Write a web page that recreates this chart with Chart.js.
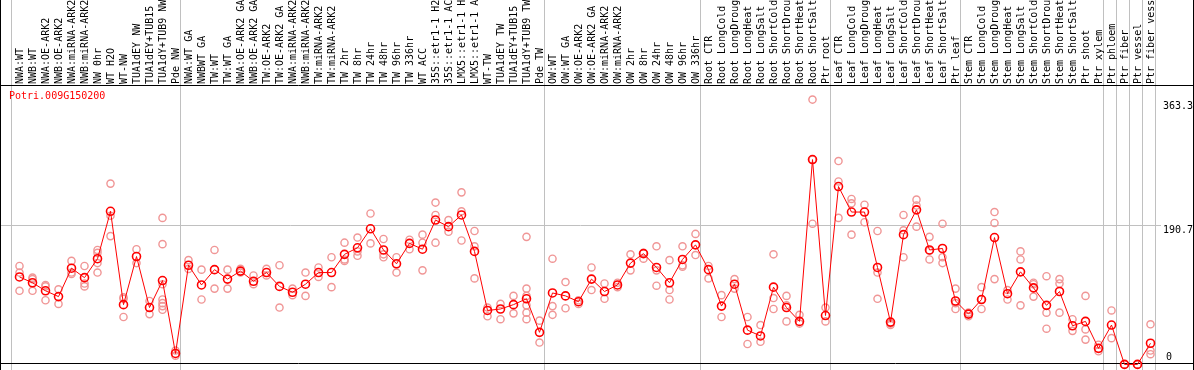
<!DOCTYPE html>
<html>
<head>
<meta charset="utf-8">
<script src="https://cdn.jsdelivr.net/npm/chart.js@4.4.1/dist/chart.umd.min.js"></script>
<style>
  html, body { margin: 0; padding: 0; background: #fff; }
</style>
</head>
<body>
<canvas id="expr" width="1194" height="370"></canvas>
<script>
const geneId = "Potri.009G150200";

const labels = [
  "NWA:WT", "NWB:WT", "NWA:OE-ARK2", "NWB:OE-ARK2", "NWA:miRNA-ARK2", "NWB:miRNA-ARK2",
  "NW 0hr", "WT H2O", "WT-NW", "TUA1dEY NW", "TUA1dEY+TUB15 NW", "TUA1dY+TUB9 NW", "Pde NW",
  "NWA:WT GA", "NWBWT GA", "TW:WT", "TW:WT GA", "NWA:OE-ARK2 GA", "NWB:OE-ARK2 GA",
  "TW:OE-ARK2", "TW:OE-ARK2 GA", "NWA:miRNA-ARK2", "NWB:miRNA-ARK2", "TW:miRNA-ARK2",
  "TW:miRNA-ARK2", "TW 2hr", "TW 8hr", "TW 24hr", "TW 48hr", "TW 96hr", "TW 336hr",
  "WT ACC", "35S::etr1-1 H2O", "35S::etr1-1 ACC", "LMX5::etr1-1 H2O", "LMX5::etr1-1 ACC",
  "WT-TW", "TUA1dEY TW", "TUA1dEY+TUB15 TW", "TUA1dY+TUB9 TW", "Pde TW",
  "OW:WT", "OW:WT GA", "OW:OE-ARK2", "OW:OE-ARK2 GA", "OW:miRNA-ARK2", "OW:miRNA-ARK2",
  "OW 2hr", "OW 8hr", "OW 24hr", "OW 48hr", "OW 96hr", "OW 336hr",
  "Root CTR", "Root LongCold", "Root LongDrought", "Root LongHeat", "Root LongSalt",
  "Root ShortCold", "Root ShortDrought", "Root ShortHeat", "Root ShortSalt", "Ptr root",
  "Leaf CTR", "Leaf LongCold", "Leaf LongDrought", "Leaf LongHeat", "Leaf LongSalt",
  "Leaf ShortCold", "Leaf ShortDrought", "Leaf ShortHeat", "Leaf ShortSalt", "Ptr leaf",
  "Stem CTR", "Stem LongCold", "Stem LongDrought", "Stem LongHeat", "Stem LongSalt",
  "Stem ShortCold", "Stem ShortDrought", "Stem ShortHeat", "Stem ShortSalt", "Ptr shoot",
  "Ptr xylem", "Ptr phloem", "Ptr fiber", "Ptr vessel", "Ptr fiber vessel"
];

// mean expression per sample (red line)
const means = [
  120, 112, 101, 93, 132, 119, 145, 210, 82, 148, 78, 115, 15,
  136, 109, 130, 117, 128, 114, 126, 107, 99, 110, 126, 126, 151, 160, 186, 157, 138,
  166, 158, 198, 189, 205, 155, 74, 76, 82, 90, 44,
  98, 94, 86, 117, 100, 109, 139, 152, 133, 112, 144, 164,
  130, 80, 110, 47, 39, 106, 78, 59, 281, 67,
  244, 209, 209, 133, 58, 178, 212, 157, 159, 87,
  69, 89, 174, 97, 127, 105, 81, 100, 53, 59, 22, 54, 0, 0, 29
];

// replicate values per sample (pink circles)
const reps = [
  [135, 126, 101], [119, 117, 101], [109, 107, 88], [103, 83], [142, 126, 124],
  [135, 111, 107], [157, 153, 139, 126], [248, 204, 176], [92, 90, 65], [158, 139],
  [87, 69], [201, 165, 110, 89, 84, 80, 75], [19, 12],
  [143, 131], [130, 89], [157, 104], [130, 104], [131, 126], [122, 110], [131, 122],
  [136, 78], [104, 95], [126, 94], [133, 120], [147, 106], [167, 144, 142],
  [174, 155, 149], [207, 166], [172, 151, 147], [147, 126], [171, 158],
  [178, 167, 129], [222, 205, 167], [198, 182], [236, 210, 170], [183, 162, 118],
  [78, 66], [83, 62], [94, 70], [175, 104, 94, 81, 71, 62], [60, 30],
  [145, 80, 68], [113, 77], [88, 83], [133, 102], [111, 90], [112, 106],
  [151, 129], [153, 145], [162, 129, 108], [143, 102, 89], [162, 136, 134], [179, 150],
  [135, 118], [95, 65], [117, 104], [65, 28], [54, 31], [151, 91, 76],
  [94, 81, 59], [68, 56], [363.3, 281, 193], [78, 59],
  [279, 251, 201], [227, 221, 178], [219, 195], [183, 126, 90], [56, 54],
  [205, 184, 147], [226, 218, 189], [175, 156, 144], [193, 147, 139], [104, 84, 76],
  [71, 66], [106, 89, 76], [209, 194, 117], [102, 89], [155, 144, 81],
  [112, 110, 93], [121, 71, 49], [117, 111, 71], [62, 46], [94, 48, 34],
  [27, 18], [74, 36], [0], [0], [55, 19, 14]
];

const yTicks = [0, 190.7, 363.3];
const groupEnds = [-1, 12, 40, 52, 62, 72, 83, 84, 85, 86, 87];

const monoFont = '10px "DejaVu Sans Mono", "Liberation Mono", monospace';

const repPoints = reps.flatMap((vals, i) => vals.map((v) => ({ x: i, y: v })));
const meanPoints = means.map((v, i) => ({ x: i, y: v }));

const frame = {
  id: "frame",
  beforeDraw(chart) {
    const { ctx, chartArea, scales: { x, y } } = chart;
    const W = chart.width, H = chart.height;
    ctx.save();
    ctx.lineWidth = 1;
    ctx.strokeStyle = "#c0c0c0";
    groupEnds.forEach((k) => {
      const px = Math.round(x.getPixelForValue(k + 0.38)) + 0.5;
      ctx.beginPath();
      ctx.moveTo(px, 0);
      ctx.lineTo(px, H);
      ctx.stroke();
    });
    const gy = Math.round(y.getPixelForValue(yTicks[1])) + 0.5;
    ctx.beginPath();
    ctx.moveTo(0, gy);
    ctx.lineTo(chartArea.right + 4, gy);
    ctx.stroke();

    ctx.strokeStyle = "#000";
    const top = Math.round(chartArea.top) + 0.5;
    const bot = Math.round(chartArea.bottom) - 0.5;
    ctx.beginPath();
    ctx.moveTo(0, top); ctx.lineTo(W, top);
    ctx.moveTo(0, bot); ctx.lineTo(W, bot);
    ctx.moveTo(0.5, 0); ctx.lineTo(0.5, H);
    ctx.moveTo(W - 0.5, 0); ctx.lineTo(W - 0.5, H);
    ctx.stroke();
    ctx.restore();
  },
  afterDraw(chart) {
    const { ctx, chartArea, scales: { y } } = chart;
    ctx.save();
    ctx.font = monoFont;
    ctx.textBaseline = "middle";
    ctx.fillStyle = "#f00";
    ctx.textAlign = "left";
    ctx.fillText(geneId, 9, chartArea.top + 11);
    ctx.fillStyle = "#000";
    const shift = [-7, 5, 7];
    yTicks.forEach((v, i) => {
      const label = String(v);
      const tx = label.length === 1 ? chartArea.right + 9 : chartArea.right + 6;
      ctx.fillText(label, tx, y.getPixelForValue(v) + shift[i]);
    });
    ctx.restore();
  }
};

new Chart(document.getElementById("expr"), {
  data: {
    datasets: [
      {
        type: "line",
        data: meanPoints,
        borderColor: "#ff0000",
        borderWidth: 1,
        pointRadius: 4,
        pointBorderWidth: 1.6,
        pointBorderColor: "#ff0000",
        pointBackgroundColor: "rgba(0,0,0,0)",
        tension: 0,
        clip: false,
        order: 1
      },
      {
        type: "scatter",
        data: repPoints,
        pointRadius: 3.6,
        pointBorderWidth: 1.4,
        pointBorderColor: "rgb(240,150,150)",
        pointBackgroundColor: "rgba(0,0,0,0)",
        showLine: false,
        clip: false,
        order: 2
      }
    ]
  },
  options: {
    responsive: false,
    animation: false,
    events: [],
    layout: { padding: { left: 13, right: 37, top: 0, bottom: 1 } },
    plugins: { legend: { display: false }, tooltip: { enabled: false } },
    scales: {
      x: {
        type: "linear",
        position: "top",
        min: -0.5,
        max: 87.5,
        grid: { display: false },
        border: { display: false },
        afterBuildTicks: (scale) => {
          scale.ticks = labels.map((_, i) => ({ value: i }));
        },
        afterFit: (scale) => {
          scale.height = 85;
        },
        ticks: {
          autoSkip: false,
          minRotation: 90,
          maxRotation: 90,
          padding: -7,
          labelOffset: 13,
          color: "#000",
          font: { family: '"DejaVu Sans Mono", "Liberation Mono", monospace', size: 10 },
          callback: (v) => labels[v]
        }
      },
      y: {
        display: false,
        min: 0,
        max: 383.3
      }
    }
  },
  plugins: [frame]
});
</script>
</body>
</html>
